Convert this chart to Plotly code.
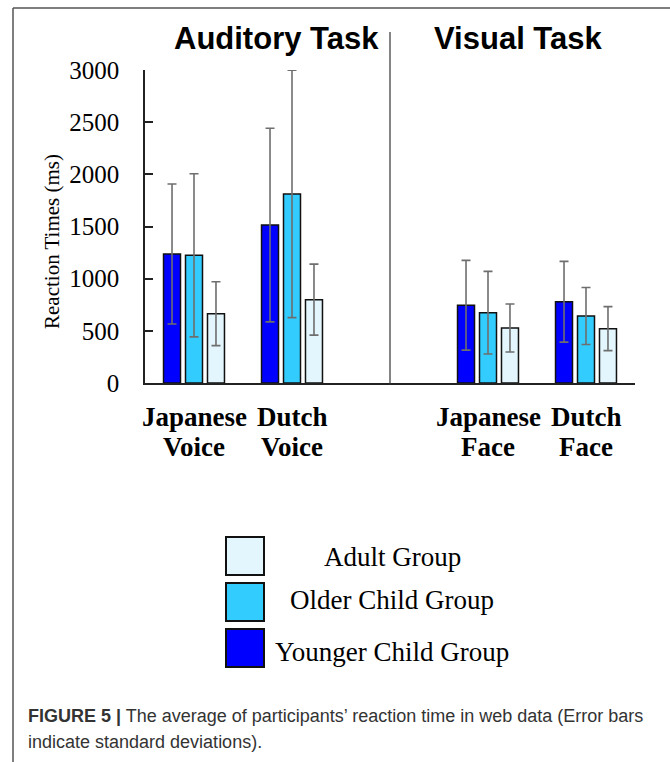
import plotly.graph_objects as go

# ---------------- data ----------------
categories = ["Japanese Voice", "Dutch Voice", "Japanese Face", "Dutch Face"]
cat_lines = [("Japanese", "Voice"), ("Dutch", "Voice"), ("Japanese", "Face"), ("Dutch", "Face")]
axis_order = ["Japanese Voice", "Dutch Voice", " ", "Japanese Face", "Dutch Face"]

series_names = ["Younger Child Group", "Older Child Group", "Adult Group"]
younger_mean = [1236, 1514, 745, 779]
younger_sd = [671, 928, 430, 387]
older_mean = [1224, 1812, 674, 642]
older_sd = [782, 1185, 396, 273]
adult_mean = [664, 799, 527, 521]
adult_sd = [306, 340, 230, 211]

y_ticks = [0, 500, 1000, 1500, 2000, 2500, 3000]
panel_titles = ["Auditory Task", "Visual Task"]
y_title = "Reaction Times (ms)"
caption_bold = "FIGURE 5 |"
caption_line1 = " The average of participants\u2019 reaction time in web data (Error bars"
caption_line2 = "indicate standard deviations)."

# ---------------- styling ----------------
colors = ["#0000FF", "#33CCFF", "#E3F6FD"]
W, H = 670, 762
ML, MR, MT, MB = 145, 35, 70, 379
PW, PH = W - ML - MR, H - MT - MB
SERIF = "Liberation Serif"
SANS = "Liberation Sans"


def px(x):
    return (x - ML) / PW


def py(y):
    return (MT + PH - y) / PH


fig = go.Figure()
for name, m, sd, c in zip(series_names,
                          [younger_mean, older_mean, adult_mean],
                          [younger_sd, older_sd, adult_sd], colors):
    fig.add_trace(go.Bar(
        x=categories, y=m, name=name, marker=dict(color=c, line=dict(color="#111", width=1.5)),
        error_y=dict(type="data", array=sd, visible=True, color="#6e6e6e", thickness=1.6, width=4.5),
        showlegend=False,
    ))

shapes = []
# divider between tasks
shapes.append(dict(type="line", xref="x", yref="paper", x0=2, x1=2, y0=py(32), y1=py(385),
                   line=dict(color="#333", width=1.2)))
# figure frame (top and left)
shapes.append(dict(type="line", xref="paper", yref="paper", x0=px(13), x1=px(672), y0=py(8), y1=py(8),
                   line=dict(color="#555", width=1.5)))
shapes.append(dict(type="line", xref="paper", yref="paper", x0=px(13), x1=px(13), y0=py(8), y1=py(765),
                   line=dict(color="#555", width=1.5)))

annotations = []
# panel titles
for t, cx in zip(panel_titles, [276, 518]):
    annotations.append(dict(text=f"<b>{t}</b>", xref="paper", yref="paper", x=px(cx), y=py(39),
                            xanchor="center", yanchor="middle", showarrow=False,
                            font=dict(family=SANS, size=31, color="#000")))
# y title
annotations.append(dict(text=y_title, xref="paper", yref="paper", x=px(52), y=py(242), textangle=-90,
                        xanchor="center", yanchor="middle", showarrow=False,
                        font=dict(family=SERIF, size=21, color="#000")))
# category labels (two lines)
for cat, (l1, l2) in zip(categories, cat_lines):
    for txt, yy in [(l1, 417), (l2, 447)]:
        annotations.append(dict(text=f"<b>{txt}</b>", xref="x", yref="paper", x=cat, y=py(yy),
                                xanchor="center", yanchor="middle", showarrow=False,
                                font=dict(family=SERIF, size=27, color="#000")))

# custom legend (Adult on top)
legend_rows = [(556, 557), (602, 600), (648, 652)]
for (by, ty), name, c in zip(legend_rows, series_names[::-1], colors[::-1]):
    shapes.append(dict(type="rect", xref="paper", yref="paper", x0=px(226), x1=px(264),
                       y0=py(by - 19), y1=py(by + 19), fillcolor=c, line=dict(color="#111", width=2)))
    annotations.append(dict(text=name, xref="paper", yref="paper", x=px(392), y=py(ty),
                            xanchor="center", yanchor="middle", showarrow=False,
                            font=dict(family=SERIF, size=27, color="#000")))

# caption
annotations.append(dict(text=f"<b>{caption_bold}</b>{caption_line1}", xref="paper", yref="paper",
                        x=px(26), y=py(716), xanchor="left", yanchor="middle", showarrow=False,
                        font=dict(family=SANS, size=18, color="#333")))
annotations.append(dict(text=caption_line2, xref="paper", yref="paper",
                        x=px(26), y=py(742), xanchor="left", yanchor="middle", showarrow=False,
                        font=dict(family=SANS, size=18, color="#333")))

fig.update_layout(
    width=W, height=H, margin=dict(l=ML, r=MR, t=MT, b=MB, pad=0),
    paper_bgcolor="white", plot_bgcolor="white",
    barmode="group", bargap=0.327, bargroupgap=0.227,
    shapes=shapes, annotations=annotations,
    xaxis=dict(type="category", categoryorder="array", categoryarray=axis_order,
               range=[-0.5, 4.5], showticklabels=False, ticks="", showgrid=False,
               showline=True, linecolor="#222", linewidth=1.5, zeroline=False),
    yaxis=dict(range=[0, 3000], tickvals=y_ticks, ticks="inside", ticklen=8, tickwidth=1.5,
               tickcolor="#222", showline=True, linecolor="#222", linewidth=1.5,
               showgrid=False, zeroline=False, ticklabelstandoff=19,
               tickfont=dict(family=SERIF, size=25, color="#000")),
)

fig.write_html("out.html")
